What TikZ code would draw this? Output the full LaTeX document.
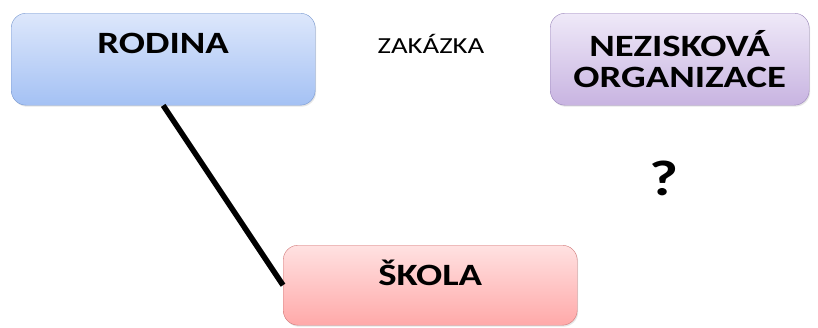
\documentclass[tikz,border=0pt]{standalone}
\usepackage{fontspec}
\setmainfont{Carlito}[FakeStretch=1.25]
\usepackage{tikz}
\usetikzlibrary{shadows}

\definecolor{bluetop}{HTML}{DDE7FB}
\definecolor{bluebot}{HTML}{A4C1F4}
\definecolor{blueln}{HTML}{7898D0}
\definecolor{lilactop}{HTML}{EFE9F8}
\definecolor{lilacbot}{HTML}{C8B4E1}
\definecolor{lilacln}{HTML}{9A85BA}
\definecolor{redtop}{HTML}{FFE1E1}
\definecolor{redbot}{HTML}{FFA9A9}
\definecolor{redln}{HTML}{D07878}

\begin{document}
\begin{tikzpicture}[
  x=1pt, y=-1pt,
  box/.style={draw, rounded corners=15pt, inner sep=0pt, anchor=north west, align=center,
    font=\fontsize{31}{31}\selectfont\bfseries,
    drop shadow={opacity=0.2, shadow xshift=1pt, shadow yshift=-1.5pt}},
  conn/.style={line width=5.5pt, black}
]
\useasboundingbox (0,0) rectangle (818,327);
\node[box, draw=blueln, top color=bluetop, bottom color=bluebot,
      minimum width=304pt, text height=40pt, text depth=52pt] (rodina) at (11,13) {RODINA};
\node[box, draw=lilacln, top color=lilactop, bottom color=lilacbot,
      minimum width=259pt, minimum height=92pt] (nno) at (550,13) {NEZISKOVÁ\\ORGANIZACE};
\node[box, draw=redln, top color=redtop, bottom color=redbot,
      minimum width=294pt, text height=40pt, text depth=40pt] (skola) at (283,245) {ŠKOLA};
\node[font=\fontsize{23}{25}\selectfont, anchor=base] (zakazka) at (431,53) {ZAKÁZKA};
\node[font=\fontsize{50}{50}\selectfont\bfseries, anchor=base] (otaznik) at (664,195) {?};
\draw[conn] (rodina.south) -- (skola.west);
\end{tikzpicture}
\end{document}
